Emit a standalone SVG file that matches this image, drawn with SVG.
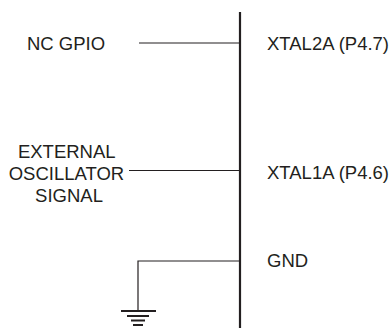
<svg xmlns="http://www.w3.org/2000/svg" width="392" height="328" viewBox="0 0 392 328">
<style>
.t{font-family:"Liberation Sans",Arial,sans-serif;font-size:18.5px;fill:#231f20}
.w{stroke:#231f20;stroke-width:1.2;fill:none}
.bus{stroke:#231f20;stroke-width:2.2;fill:none}
.g{stroke:#231f20;stroke-width:2;fill:none}
</style>
<rect width="392" height="328" fill="#fff"/>
<g id="bus"><line class="bus" x1="240" y1="12" x2="240" y2="328"/></g>
<g id="connectors">
<line class="w" x1="139" y1="43" x2="240" y2="43"/>
<line class="w" x1="129" y1="170.5" x2="240" y2="170.5"/>
<polyline class="w" points="240,261 138,261 138,311"/>
</g>
<g id="ground">
<line class="g" x1="121" y1="311" x2="156" y2="311"/>
<line class="g" x1="127" y1="316" x2="149" y2="316"/>
<line class="g" x1="131" y1="320.5" x2="145" y2="320.5"/>
<line class="g" x1="133" y1="325" x2="143" y2="325"/>
</g>
<g id="nc-gpio"><text class="t" x="27" y="49.5">NC GPIO</text></g>
<g id="ext-osc"><text class="t" text-anchor="middle">
<tspan x="69" y="157.5">EXTERNAL</tspan>
<tspan x="69" y="179.5">OSCILLATOR</tspan>
<tspan x="69" y="201.5">SIGNAL</tspan></text></g>
<g id="xtal2a"><text class="t" x="267" y="49.5">XTAL2A (P4.7)</text></g>
<g id="xtal1a"><text class="t" x="267" y="178.5">XTAL1A (P4.6)</text></g>
<g id="gnd"><text class="t" x="267" y="267">GND</text></g>
</svg>
